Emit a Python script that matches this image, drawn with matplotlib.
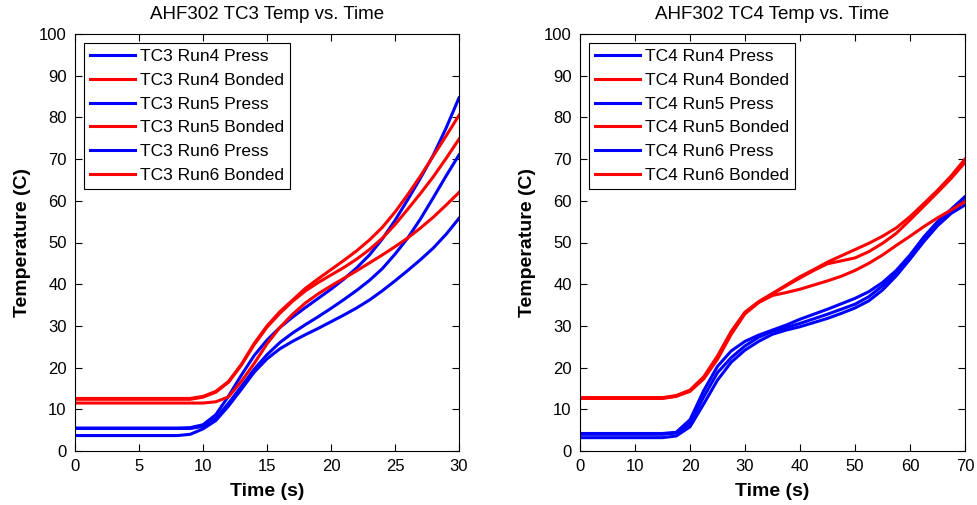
import numpy as np
import matplotlib
matplotlib.use("Agg")
from matplotlib import pyplot as plt

plt.rcParams['font.family'] = ['Liberation Sans', 'DejaVu Sans']

## TC3 data (time in s, temperature in C) ##
t_tc3 = [0, 1, 2, 3, 4, 5, 6, 7, 8, 9, 10, 11, 12, 13, 14, 15,
         16, 17, 18, 19, 20, 21, 22, 23, 24, 25, 26, 27, 28, 29, 30]

tc3_run4_press = [5.5, 5.5, 5.5, 5.5, 5.5, 5.5, 5.5, 5.5, 5.5, 5.6, 6.3, 8.7, 13.2, 18.2, 22.9, 26.6,
                  29.6, 32.1, 34.4, 36.6, 38.8, 41.2, 43.9, 47.0, 50.8, 55.3, 60.3, 65.5, 71.0, 77.5, 84.7]
tc3_run4_bonded = [12.6, 12.6, 12.6, 12.6, 12.6, 12.6, 12.6, 12.6, 12.6, 12.6, 13.1, 14.3, 16.7, 20.8, 25.8, 30.0,
                   33.4, 36.2, 39.0, 41.3, 43.5, 45.7, 48.0, 50.6, 53.6, 57.3, 61.5, 66.0, 70.8, 75.6, 80.5]
tc3_run5_press = [5.4, 5.4, 5.4, 5.4, 5.4, 5.4, 5.4, 5.4, 5.4, 5.4, 5.9, 7.8, 11.5, 15.5, 19.6, 23.1,
                  26.0, 28.3, 30.3, 32.2, 34.2, 36.3, 38.5, 40.9, 43.7, 47.2, 51.1, 55.7, 60.8, 66.0, 71.0]
tc3_run5_bonded = [12.4, 12.4, 12.4, 12.4, 12.4, 12.4, 12.4, 12.4, 12.4, 12.4, 12.9, 14.1, 16.5, 20.6, 25.5, 29.7,
                   33.0, 35.9, 38.4, 40.4, 42.2, 44.0, 46.0, 48.3, 51.0, 54.3, 58.0, 61.8, 65.8, 70.2, 74.8]
tc3_run6_press = [3.7, 3.7, 3.7, 3.7, 3.7, 3.7, 3.7, 3.7, 3.7, 4.0, 5.3, 7.3, 10.8, 14.8, 18.9, 22.1,
                  24.5, 26.3, 27.9, 29.4, 31.0, 32.6, 34.3, 36.2, 38.4, 40.8, 43.3, 45.9, 48.7, 52.0, 55.8]
tc3_run6_bonded = [11.5, 11.5, 11.5, 11.5, 11.5, 11.5, 11.5, 11.5, 11.5, 11.5, 11.5, 11.8, 13.0, 16.7, 21.0, 25.7,
                   29.6, 32.8, 35.5, 37.7, 39.6, 41.4, 43.2, 45.1, 47.0, 49.0, 51.1, 53.5, 56.1, 59.0, 62.0]

## TC4 data ##
t_tc4 = [0, 2.5, 5, 7.5, 10, 12.5, 15, 17.5, 20, 22.5, 25, 27.5, 30, 32.5, 35,
         37.5, 40, 42.5, 45, 47.5, 50, 52.5, 55, 57.5, 60, 62.5, 65, 67.5, 70]

tc4_run4_press = [4.2, 4.2, 4.2, 4.2, 4.2, 4.2, 4.2, 4.5, 7.5, 14.5, 20.3, 24.0, 26.3, 27.8, 29.0,
                  30.2, 31.6, 32.8, 34.0, 35.3, 36.6, 38.2, 40.4, 43.3, 47.0, 51.3, 55.0, 58.0, 61.0]
tc4_run4_bonded = [12.7, 12.7, 12.7, 12.7, 12.7, 12.7, 12.7, 13.2, 14.5, 17.6, 22.5, 28.5, 33.2, 35.8, 37.8,
                   39.8, 41.8, 43.5, 45.3, 46.8, 48.3, 49.8, 51.5, 53.5, 56.2, 59.3, 62.5, 66.0, 70.0]
tc4_run5_press = [4.0, 4.0, 4.0, 4.0, 4.0, 4.0, 4.0, 4.3, 6.6, 13.0, 18.8, 22.4, 25.2, 27.3, 28.7,
                  29.6, 30.6, 31.7, 32.8, 34.0, 35.2, 37.0, 39.6, 42.8, 46.5, 50.6, 54.5, 57.5, 60.0]
tc4_run5_bonded = [12.8, 12.8, 12.8, 12.8, 12.8, 12.8, 12.8, 13.3, 14.6, 17.8, 22.8, 28.7, 33.3, 35.8, 37.7,
                   39.6, 41.5, 43.3, 44.9, 45.6, 46.3, 47.8, 49.8, 52.2, 55.4, 58.7, 62.0, 65.4, 69.2]
tc4_run6_press = [3.2, 3.2, 3.2, 3.2, 3.2, 3.2, 3.2, 3.6, 5.8, 11.3, 17.0, 21.3, 24.2, 26.3, 28.0,
                  29.0, 29.8, 30.8, 31.8, 33.0, 34.3, 36.0, 38.6, 42.0, 46.0, 50.2, 54.0, 57.0, 59.0]
tc4_run6_bonded = [12.6, 12.6, 12.6, 12.6, 12.6, 12.6, 12.6, 13.1, 14.3, 17.3, 22.0, 28.0, 32.9, 35.6, 37.3,
                   38.0, 38.8, 39.8, 40.8, 41.9, 43.3, 45.0, 47.0, 49.3, 51.5, 53.8, 55.9, 57.8, 59.8]

runs = ["Run4", "Run5", "Run6"]
tc3_series = [(tc3_run4_press, tc3_run4_bonded), (tc3_run5_press, tc3_run5_bonded), (tc3_run6_press, tc3_run6_bonded)]
tc4_series = [(tc4_run4_press, tc4_run4_bonded), (tc4_run5_press, tc4_run5_bonded), (tc4_run6_press, tc4_run6_bonded)]


def draw_panel(ax, t, series, tc, xmax, xstep):
    for run, (press, bonded) in zip(runs, series):
        ax.plot(t, press, color=(0, 0, 1), lw=2.2, label=tc + " " + run + " Press")
        ax.plot(t, bonded, color=(1, 0, 0), lw=2.2, label=tc + " " + run + " Bonded")

    ax.set_xlim(0, xmax)
    ax.set_ylim(0, 100)
    ax.set_xticks(np.arange(0, xmax + 1, xstep))
    ax.set_yticks(np.arange(0, 101, 10))
    ax.tick_params(direction='in', top=True, right=True, length=5, width=0.8,
                   labelsize=12, pad=6)
    for s in ax.spines.values():
        s.set_linewidth(0.8)

    ax.set_title("AHF302 " + tc + " Temp vs. Time", fontsize=13.5, pad=11)
    ax.set_xlabel("Time (s)", fontsize=14, fontweight='bold', labelpad=6)
    ax.set_ylabel("Temperature (C)", fontsize=14, fontweight='bold', labelpad=6)

    leg = ax.legend(loc='upper left', fontsize=12.5, frameon=True, fancybox=False,
                    edgecolor='black', framealpha=1, handlelength=2.6,
                    handletextpad=0.3, labelspacing=0.5, borderaxespad=0.5,
                    borderpad=0.35)
    leg.get_frame().set_linewidth(0.8)


fig = plt.figure(figsize=(9.78, 5.05), dpi=100)
ax1 = fig.add_axes([75 / 978, 1 - 451 / 505, 384 / 978, 417 / 505])
ax2 = fig.add_axes([580 / 978, 1 - 451 / 505, 385 / 978, 417 / 505])

draw_panel(ax1, t_tc3, tc3_series, "TC3", 30, 5)
draw_panel(ax2, t_tc4, tc4_series, "TC4", 70, 10)

fig.savefig("out.png", dpi=100)
